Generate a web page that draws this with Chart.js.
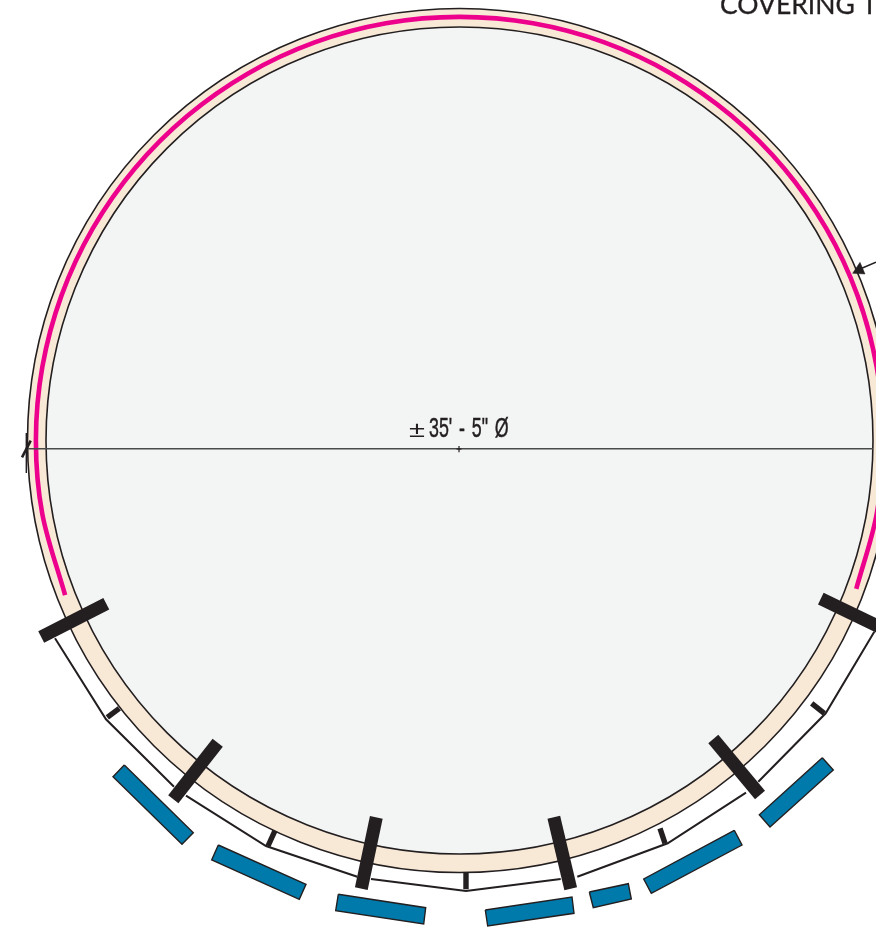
<!DOCTYPE html>
<html>
<head>
<meta charset="utf-8">
<title>Plan</title>
<style>
  html, body { margin: 0; padding: 0; background: #fff; overflow: hidden; }
  canvas { display: block; }
</style>
<script src="https://cdn.jsdelivr.net/npm/chart.js@4/dist/chart.umd.min.js"></script>
</head>
<body>
<canvas id="plan" width="876" height="932"></canvas>
<script>
const ringCentre = [459.5, 440.5];
const ringOuterRadius = 432;
const ringInnerRadius = 413.5;
const membraneRadius = 423.6;
const membraneAngles = [158.6, 170, 180, 190, 200, 210, 220, 230, 240, 250, 260, 270, 280, 290, 300, 310, 320, 330, 340, 350, 360, 370, 380.5];

const columns = [
  [[106.3, 603.7], [41.2, 637]],
  [[217.7, 742.8], [173.3, 799.3]],
  [[376.3, 817.3], [361.3, 888.7]],
  [[553.8, 817.3], [570.7, 888.7]],
  [[713.3, 739], [760, 795]],
  [[820.8, 598.7], [885, 629.5]]
];
const posts = [
  [[119.3, 708.3], [107.3, 717.3]],
  [[275, 830.7], [268, 846]],
  [[466, 872.7], [466, 889.3]],
  [[660, 828.3], [665, 843.3]],
  [[811.7, 703.3], [824.3, 713.3]]
];
const railings = [
  [[55, 638.3], [106, 719.3], [174, 786.7]],
  [[186, 795.7], [266, 846], [357.3, 876.7]],
  [[371, 879], [466, 891], [560.7, 879]],
  [[577.3, 876.7], [667.7, 843.3], [746, 792.7]],
  [[758.3, 781.7], [825.7, 713.3], [874.3, 631.7]]
];
const panels = [
  [[124.3, 765], [193.3, 832.7], [182, 844.3], [113, 776.7]],
  [[218.3, 845], [306, 884.3], [299.3, 899.3], [211.7, 860]],
  [[338.3, 894.3], [425.7, 907.7], [423.7, 924], [335.7, 910.7]],
  [[485.3, 910], [572, 897], [574, 913.3], [487.7, 926]],
  [[589.3, 892], [628.3, 883.7], [631.3, 899], [593.3, 907.7]],
  [[734.3, 830.3], [742, 845], [651.3, 893.3], [643.7, 879]],
  [[822.3, 757.7], [833.3, 770], [770, 827], [759.3, 814.7]]
];
const diameterLine = [[27, 448.7], [873, 448.7]];
const centreTickV = [[459, 446], [459, 452.3]];
const centreTickH = [[456.5, 449], [461.5, 449]];
const edgeTick = [[26.3, 433], [26.3, 473]];
const edgeSlash = [[22, 457.3], [30.7, 440.7]];
const arrowStem = [[876, 262.3], [860, 269]];
const arrowHead = [[852.7, 273.3], [860, 262.3], [865, 274]];

const plusMinusLabel = '\u00B1';
const plusMinusAt = [409, 437];
const dimensionLabel = '35\' - 5" \u00D8';
const dimensionAt = [429, 437];
const coveringLabel = 'COVERING T';
const coveringAt = [720, 14];

const INK = '#231f20';
const PINK = '#ec008c';
const BLUE = '#007aab';
const CREAM = '#f8e8d6';
const PALE = '#f3f5f4';

function toPoints(pairs) {
  return pairs.map(p => ({ x: p[0], y: p[1] }));
}

function line(pairs, color, width, extra) {
  return Object.assign({
    type: 'scatter',
    data: toPoints(pairs),
    showLine: true,
    borderColor: color,
    borderWidth: width,
    borderCapStyle: 'butt',
    borderJoinStyle: 'miter',
    pointRadius: 0,
    tension: 0
  }, extra || {});
}

function shape(pairs, fillColor, strokeColor, width) {
  return line(pairs.concat([pairs[0]]), strokeColor, width, {
    backgroundColor: fillColor,
    fill: 'shape'
  });
}

function disc(radius, fillColor) {
  return {
    type: 'bubble',
    data: [{ x: ringCentre[0], y: ringCentre[1], r: radius }],
    backgroundColor: fillColor,
    borderColor: INK,
    borderWidth: 1.6,
    hoverRadius: 0
  };
}

// membrane runs round the ring, so polar values become x/y here
const membranePoints = membraneAngles.map(a => {
  const rad = a * Math.PI / 180;
  return [ringCentre[0] + membraneRadius * Math.cos(rad), ringCentre[1] + membraneRadius * Math.sin(rad)];
});

// listed back to front
const layers = [
  disc(ringOuterRadius, CREAM),
  disc(ringInnerRadius, PALE),
  line(membranePoints, PINK, 4.6, { tension: 0.333 })
];
railings.forEach(r => layers.push(line(r, INK, 2)));
posts.forEach(p => layers.push(line(p, INK, 5.4)));
columns.forEach(c => layers.push(line(c, INK, 13)));
panels.forEach(p => layers.push(shape(p, BLUE, INK, 1.4)));
layers.push(line(diameterLine, '#4a4a4a', 1.5));
layers.push(line(centreTickV, INK, 1.2));
layers.push(line(centreTickH, INK, 1.2));
layers.push(line(edgeTick, INK, 1.4));
layers.push(line(edgeSlash, INK, 2.6));
layers.push(line(arrowStem, INK, 1.5));
layers.push(shape(arrowHead, INK, INK, 0.5));
layers.forEach((d, i) => { d.order = layers.length - i; });

// draws one label at a data position, squeezed or widened horizontally
function drawLabel(chart, text, at, font, stretch, spacing, weight) {
  const { ctx, scales } = chart;
  ctx.save();
  ctx.translate(scales.x.getPixelForValue(at[0]), scales.y.getPixelForValue(at[1]));
  ctx.scale(stretch, 1);
  ctx.font = font;
  ctx.wordSpacing = spacing;
  ctx.textAlign = 'left';
  ctx.textBaseline = 'alphabetic';
  ctx.fillStyle = INK;
  ctx.strokeStyle = INK;
  ctx.lineWidth = weight;
  ctx.fillText(text, 0, 0);
  if (weight > 0) ctx.strokeText(text, 0, 0);
  ctx.restore();
}

const textPlugin = {
  id: 'planText',
  afterDatasetsDraw(chart) {
    drawLabel(chart, plusMinusLabel, plusMinusAt, '22px "Liberation Sans"', 1.32, '0px', 0);
    drawLabel(chart, dimensionLabel, dimensionAt, '27px "Liberation Sans"', 0.66, '2.8px', 0.5);
    drawLabel(chart, coveringLabel, coveringAt, '26.5px Lato', 1, '0px', 0.3);
  }
};

new Chart(document.getElementById('plan'), {
  type: 'scatter',
  data: { datasets: layers },
  options: {
    responsive: false,
    animation: false,
    events: [],
    devicePixelRatio: 1,
    layout: { padding: 0, autoPadding: false },
    plugins: { legend: { display: false }, tooltip: { enabled: false }, title: { display: false } },
    scales: {
      x: { type: 'linear', display: false, min: 0, max: 876 },
      y: { type: 'linear', display: false, min: 0, max: 932, reverse: true }
    }
  },
  plugins: [textPlugin]
});
</script>
</body>
</html>
